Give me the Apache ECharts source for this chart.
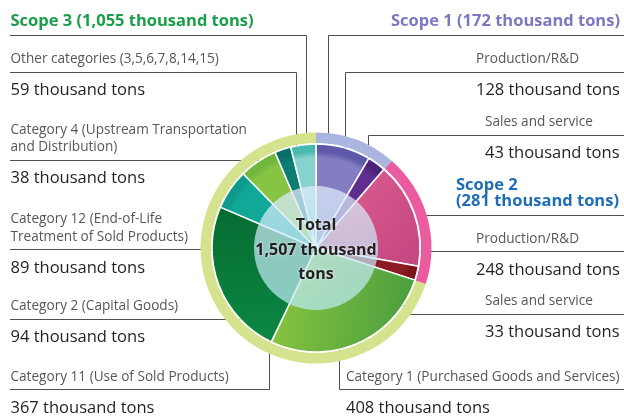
<!DOCTYPE html>
<html>
<head>
<meta charset="utf-8">
<script src="https://cdn.jsdelivr.net/npm/echarts@6/dist/echarts.min.js"></script>
<style>
  html, body { margin: 0; padding: 0; background: #ffffff; }
  #chart { width: 624px; height: 416px; }
</style>
</head>
<body>
<div id="chart"></div>
<script>
// CO2 emissions by scope and category (thousand tons)
const scopeNames = ['Scope 1', 'Scope 2', 'Scope 3'];
const scopeValues = [172, 281, 1055];

const categoryNames = [
  'Production/R&D',
  'Sales and service',
  'Production/R&D',
  'Sales and service',
  'Category 1 (Purchased Goods and Services)',
  'Category 11 (Use of Sold Products)',
  'Category 2 (Capital Goods)',
  'Category 12 (End-of-Life\nTreatment of Sold Products)',
  'Category 4 (Upstream Transportation\nand Distribution)',
  'Other categories (3,5,6,7,8,14,15)'
];
const categoryValues = [128, 43, 248, 33, 408, 367, 94, 89, 38, 59];

const totalValue = 1507;
const unit = 'thousand tons';

// ---- geometry & styling ----
const CX = 316, CY = 248;
const RING = [105, 115.5];
const INNER_R = 104;
const CORE_R = 62;

const FONT = '"Open Sans", "Noto Sans", sans-serif';
const NAME_SIZE = 13.6, VALUE_SIZE = 16.5, TITLE_SIZE = 16.5;
const NAME_LH = 17.8, VALUE_LH = 44.2, TITLE_LH = 16;

const scopeColors = ['#aab5e0', '#eb5ba0', '#d5e38f'];
const scopeTextColors = ['#7c78c1', '#1f6db5', '#1a9e4a'];

function sectorFill(base, dark) {
  return new echarts.graphic.RadialGradient(CX, CY, INNER_R, [
    { offset: 0, color: base },
    { offset: 0.87, color: base },
    { offset: 0.93, color: dark },
    { offset: 1, color: dark }
  ], true);
}
function sweepFill(x2, y2, from, to) {
  return new echarts.graphic.LinearGradient(0, 0, x2, y2, [
    { offset: 0, color: from },
    { offset: 1, color: to }
  ]);
}

const categoryFills = [
  sectorFill('#857dc2', '#5d58aa'),
  sectorFill('#5e2f8f', '#4c2279'),
  sweepFill(1, 1, '#df5f90', '#c24680'),
  sectorFill('#8c1c24', '#7a141a'),
  sweepFill(1, 0.2, '#8cc640', '#4c9f3e'),
  sweepFill(0, 1, '#066c31', '#0c8843'),
  sectorFill('#12a897', '#0f9b8b'),
  sectorFill('#86c443', '#72b73d'),
  sectorFill('#0b7d72', '#096f66'),
  sectorFill('#86d2ce', '#47b9b1')
];

// leader line routing: side of the text, y of the horizontal rule,
// anchor position as a fraction across the sector's sweep and a radius
const scopeLayout = [
  { side: 'right', lineY: 35, f: 0.15, r: 113.5 },
  { side: 'right', lineY: 215, f: 0.47, r: 110.5, wrap: true },
  { side: 'left', lineY: 35, f: 0.981, r: 113.5 }
];
const categoryLayout = [
  { side: 'right', lineY: 72, f: 0.61, r: 91 },
  { side: 'right', lineY: 135, f: 0.42, r: 91.4 },
  { side: 'right', lineY: 251.5, f: 0.86, r: 85 },
  { side: 'right', lineY: 314, f: 0.115, r: 89 },
  { side: 'right', lineY: 389.5, f: 0.56, r: 77.3 },
  { side: 'left', lineY: 389.5, f: 0.124, r: 77.8 },
  { side: 'left', lineY: 319, f: 0.494, r: 76.5 },
  { side: 'left', lineY: 249.5, f: 0.2, r: 102 },
  { side: 'left', lineY: 160, f: 0.526, r: 92.7 },
  { side: 'left', lineY: 72, f: 0.163, r: 94 }
];

const fmt = v => v.toLocaleString('en-US');

const measureCtx = document.createElement('canvas').getContext('2d');
function textWidth(str, font) {
  measureCtx.font = font;
  return measureCtx.measureText(str).width;
}
const nameFont = `${NAME_SIZE}px "Open Sans"`;
const valueFont = `${VALUE_SIZE}px "Open Sans"`;
const titleFont = `bold ${TITLE_SIZE}px "Open Sans"`;

function scopeLines(i) {
  const head = scopeNames[i];
  const tail = `(${fmt(scopeValues[i])} ${unit})`;
  return scopeLayout[i].wrap ? [head, tail] : [`${head} ${tail}`];
}
function categoryLines(i) {
  return categoryNames[i].split('\n');
}

// sweep of each sector, degrees clockwise from 12 o'clock
function sweeps(values) {
  const sum = values.reduce((a, b) => a + b, 0);
  let acc = 0;
  return values.map(v => {
    const s = acc / sum * 360;
    acc += v;
    return [s, acc / sum * 360];
  });
}
const crisp = v => Math.round(v - 0.5) + 0.5;

function leaderLayout(values, layouts, topOf) {
  const sw = sweeps(values);
  return function (params) {
    const i = params.dataIndex;
    const cfg = layouts[i];
    const [a0, a1] = sw[i];
    const t = (a0 + cfg.f * (a1 - a0)) * Math.PI / 180;
    const ax = crisp(CX + cfg.r * Math.sin(t));
    const ay = CY - cfg.r * Math.cos(t);
    const ly = crisp(cfg.lineY);
    const left = cfg.side === 'left';
    return {
      x: left ? 10.5 : 622,
      y: topOf(i, cfg),
      align: left ? 'left' : 'right',
      verticalAlign: 'top',
      labelLinePoints: [[left ? 10 : 624, ly], [ax, ly], [ax, ay]]
    };
  };
}

const scopeData = scopeNames.map((name, i) => {
  const lines = scopeLines(i);
  const w = Math.ceil(Math.max(...lines.map(s => textWidth(s, titleFont)))) + 2;
  return {
    name,
    value: scopeValues[i],
    itemStyle: { color: scopeColors[i] },
    label: { width: w }
  };
});

const categoryData = categoryNames.map((name, i) => {
  const lines = categoryLines(i);
  const valueText = `${fmt(categoryValues[i])} ${unit}`;
  const w = Math.ceil(Math.max(
    ...lines.map(s => textWidth(s, nameFont)),
    textWidth(valueText, valueFont)
  )) + 2;
  return {
    name,
    value: categoryValues[i],
    itemStyle: { color: categoryFills[i] },
    label: { width: w }
  };
});

const scopeRich = {};
scopeTextColors.forEach((c, i) => {
  scopeRich['s' + i] = {
    fontFamily: FONT, fontSize: TITLE_SIZE, fontWeight: 'bold',
    color: c, lineHeight: TITLE_LH, align: 'left'
  };
});

const chart = echarts.init(document.getElementById('chart'), null, { renderer: 'canvas' });

chart.setOption({
  animation: false,
  backgroundColor: '#ffffff',
  series: [
    {
      type: 'pie',
      center: [CX, CY],
      radius: RING,
      startAngle: 90,
      clockwise: true,
      silent: true,
      avoidLabelOverlap: false,
      emphasis: { disabled: true },
      itemStyle: { borderWidth: 0 },
      data: scopeData,
      label: {
        show: true,
        position: 'outside',
        formatter: p => scopeLines(p.dataIndex).map(s => `{s${p.dataIndex}|${s}}`).join('\n'),
        rich: scopeRich
      },
      labelLine: {
        show: true,
        smooth: false,
        lineStyle: { color: '#4f4f4f', width: 1 }
      },
      labelLayout: leaderLayout(scopeValues, scopeLayout, (i, cfg) => {
        const k = scopeLines(i).length;
        return cfg.lineY - 14 - TITLE_LH / 2 - (k - 1) * TITLE_LH;
      })
    },
    {
      type: 'pie',
      center: [CX, CY],
      radius: [0, INNER_R],
      startAngle: 90,
      clockwise: true,
      silent: true,
      avoidLabelOverlap: false,
      emphasis: { disabled: true },
      itemStyle: { borderColor: '#ffffff', borderWidth: 1.5 },
      data: categoryData,
      label: {
        show: true,
        position: 'outside',
        formatter: p => {
          const parts = categoryLines(p.dataIndex).map(s => `{n|${s}}`);
          parts.push(`{v|${fmt(p.value)} ${unit}}`);
          return parts.join('\n');
        },
        rich: {
          n: { fontFamily: FONT, fontSize: NAME_SIZE, color: '#575757', lineHeight: NAME_LH, align: 'left' },
          v: { fontFamily: FONT, fontSize: VALUE_SIZE, color: '#231f20', lineHeight: VALUE_LH, align: 'left' }
        }
      },
      labelLine: {
        show: true,
        smooth: false,
        lineStyle: { color: '#4f4f4f', width: 1 }
      },
      labelLayout: leaderLayout(categoryValues, categoryLayout, (i, cfg) => {
        const k = categoryLines(i).length;
        return cfg.lineY - 12.5 - NAME_LH / 2 - (k - 1) * NAME_LH;
      })
    },
    {
      type: 'pie',
      center: [CX, CY],
      radius: [0, CORE_R],
      silent: true,
      emphasis: { disabled: true },
      data: [{ name: 'Total', value: totalValue }],
      itemStyle: {
        borderWidth: 0,
        color: new echarts.graphic.LinearGradient(0, 0, 0, 1, [
          { offset: 0, color: 'rgba(226,234,252,0.74)' },
          { offset: 0.5, color: 'rgba(200,234,248,0.70)' },
          { offset: 1, color: 'rgba(186,234,242,0.72)' }
        ])
      },
      label: {
        show: true,
        position: 'center',
        formatter: () => `Total\n${fmt(totalValue)} thousand\ntons`,
        fontFamily: FONT,
        fontSize: 16,
        fontWeight: 'bold',
        lineHeight: 24.3,
        color: '#231f20',
        textShadowColor: 'rgba(255,255,255,0.7)',
        textShadowBlur: 3
      },
      labelLine: { show: false },
      labelLayout: { dy: 2 }
    }
  ]
});
</script>
</body>
</html>
